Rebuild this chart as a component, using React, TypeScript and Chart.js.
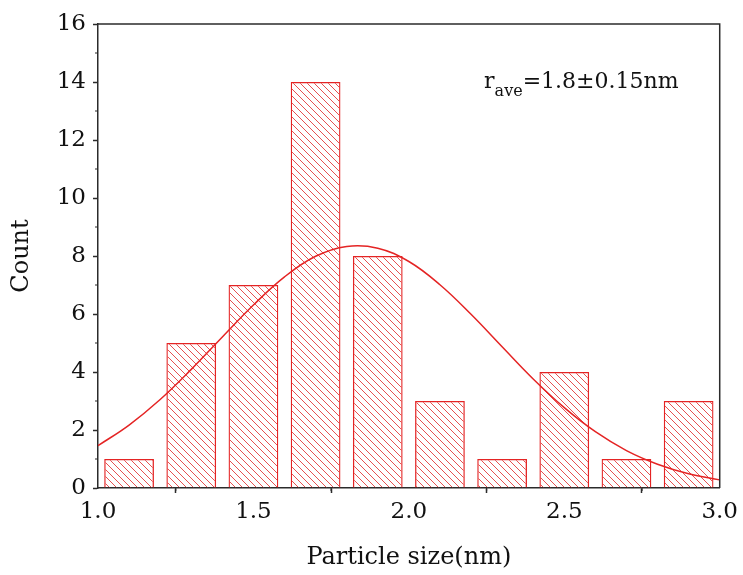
import React, { useEffect, useRef } from 'react';
import { Chart, registerables } from 'chart.js';
Chart.register(...registerables);

const binCenters = [1.1, 1.3, 1.5, 1.7, 1.9, 2.1, 2.3, 2.5, 2.7, 2.9];
const counts = [1, 5, 7, 14, 8, 3, 1, 4, 1, 3];
const fitX = [1.0, 1.1, 1.2, 1.3, 1.4, 1.5, 1.6, 1.7, 1.8, 1.9, 2.0, 2.1, 2.2, 2.3, 2.4, 2.5, 2.6, 2.7, 2.8, 2.9, 3.0];
const fitY = [1.46, 2.17, 3.05, 4.09, 5.21, 6.31, 7.28, 7.99, 8.33, 8.27, 7.81, 7.01, 5.99, 4.87, 3.76, 2.77, 1.94, 1.29, 0.82, 0.49, 0.28];
const xTickValues = [1.0, 1.5, 2.0, 2.5, 3.0];
const xMinorTicks = [1.25, 1.75, 2.25, 2.75];
const yMinorTicks = [1, 3, 5, 7, 9, 11, 13, 15];
const annotationMain = 'r';
const annotationSub = 'ave';
const annotationRest = '=1.8±0.15nm';
const annotationPos = { x: 2.242, y: 13.8 };

const RED = 'rgb(228, 36, 36)';
const AXIS = '#2b2b2b';
const FONT = "'DejaVu Serif', serif";

function makeHatch(): CanvasPattern | string {
  const s = 7;
  const c = document.createElement('canvas');
  c.width = s;
  c.height = s;
  const g = c.getContext('2d');
  if (!g) return 'rgba(0,0,0,0)';
  g.strokeStyle = 'rgba(226, 50, 50, 0.85)';
  g.lineWidth = 1;
  g.beginPath();
  g.moveTo(0, 0);
  g.lineTo(s, s);
  g.moveTo(-2, s - 2);
  g.lineTo(2, s + 2);
  g.moveTo(s - 2, -2);
  g.lineTo(s + 2, 2);
  g.stroke();
  const p = g.createPattern(c, 'repeat');
  return p || 'rgba(0,0,0,0)';
}

const decorPlugin = {
  id: 'decor',
  afterDraw(chart: any) {
    const { ctx, chartArea, scales } = chart;
    const xs = scales.x;
    const ys = scales.y;
    ctx.save();
    ctx.strokeStyle = AXIS;
    ctx.lineWidth = 1.5;
    ctx.beginPath();
    ctx.moveTo(chartArea.left, chartArea.top);
    ctx.lineTo(chartArea.right, chartArea.top);
    ctx.lineTo(chartArea.right, chartArea.bottom);
    ctx.stroke();
    ctx.lineWidth = 1.2;
    ctx.beginPath();
    xMinorTicks.forEach((v) => {
      const px = xs.getPixelForValue(v);
      ctx.moveTo(px, chartArea.bottom);
      ctx.lineTo(px, chartArea.bottom + 3);
    });
    yMinorTicks.forEach((v) => {
      const py = ys.getPixelForValue(v);
      ctx.moveTo(chartArea.left, py);
      ctx.lineTo(chartArea.left - 3, py);
    });
    ctx.stroke();
    const ax = xs.getPixelForValue(annotationPos.x);
    const ay = ys.getPixelForValue(annotationPos.y);
    ctx.fillStyle = '#111';
    ctx.textBaseline = 'alphabetic';
    ctx.textAlign = 'left';
    ctx.font = `22px ${FONT}`;
    ctx.fillText(annotationMain, ax, ay);
    let x = ax + ctx.measureText(annotationMain).width;
    ctx.font = `16px ${FONT}`;
    ctx.fillText(annotationSub, x, ay + 8);
    x += ctx.measureText(annotationSub).width;
    ctx.font = `22px ${FONT}`;
    ctx.fillText(annotationRest, x, ay);
    ctx.restore();
  },
};

export default function App() {
  const ref = useRef<HTMLCanvasElement | null>(null);
  useEffect(() => {
    if (!ref.current) return;
    const hatch = makeHatch();
    const chart = new Chart(ref.current, {
      type: 'bar',
      data: {
        datasets: [
          {
            type: 'line',
            data: fitX.map((x, i) => ({ x, y: fitY[i] })),
            borderColor: RED,
            borderWidth: 1.5,
            pointRadius: 0,
            tension: 0.4,
            fill: false,
            order: 0,
          } as any,
          {
            type: 'bar',
            data: binCenters.map((x, i) => ({ x, y: counts[i] })),
            backgroundColor: hatch as any,
            borderColor: RED,
            borderWidth: 1.3,
            barPercentage: 0.8,
            categoryPercentage: 1.0,
            order: 1,
          } as any,
        ],
      },
      plugins: [decorPlugin],
      options: {
        animation: false,
        responsive: false,
        maintainAspectRatio: false,
        layout: { padding: { top: 24, right: 22, left: 0, bottom: 0 } },
        plugins: { legend: { display: false }, tooltip: { enabled: false } },
        scales: {
          x: {
            type: 'linear',
            min: 1.0,
            max: 3.0,
            offset: false,
            afterFit: (s: any) => { s.height = 87; },
            afterBuildTicks: (s: any) => {
              s.ticks = xTickValues.map((v) => ({ value: v }));
            },
            ticks: {
              color: '#111',
              font: { family: FONT, size: 23 },
              padding: 5,
              maxRotation: 0,
              callback: (v: any) => Number(v).toFixed(1),
            },
            grid: { display: true, drawOnChartArea: false, drawTicks: true, tickLength: 5, tickWidth: 1.5, tickColor: AXIS },
            border: { display: true, color: AXIS, width: 1.5 },
            title: { display: true, text: 'Particle size(nm)', color: '#111', font: { family: FONT, size: 24 }, padding: { top: 0, bottom: 3 } },
          },
          y: {
            type: 'linear',
            min: 0,
            max: 16,
            afterFit: (s: any) => { s.width = 98; },
            ticks: {
              stepSize: 2,
              color: '#111',
              font: { family: FONT, size: 23 },
              padding: 7,
            },
            grid: { display: true, drawOnChartArea: false, drawTicks: true, tickLength: 5, tickWidth: 1.5, tickColor: AXIS },
            border: { display: true, color: AXIS, width: 1.5 },
            title: { display: true, text: 'Count', color: '#111', font: { family: FONT, size: 24 }, padding: { top: 7, bottom: 0 } },
          },
        },
      },
    });
    return () => chart.destroy();
  }, []);
  return (
    <div style={{ position: 'fixed', left: 0, top: 0, width: 743, height: 575, background: '#fff' }}>
      <canvas ref={ref} width={743} height={575} style={{ display: 'block' }} />
    </div>
  );
}
